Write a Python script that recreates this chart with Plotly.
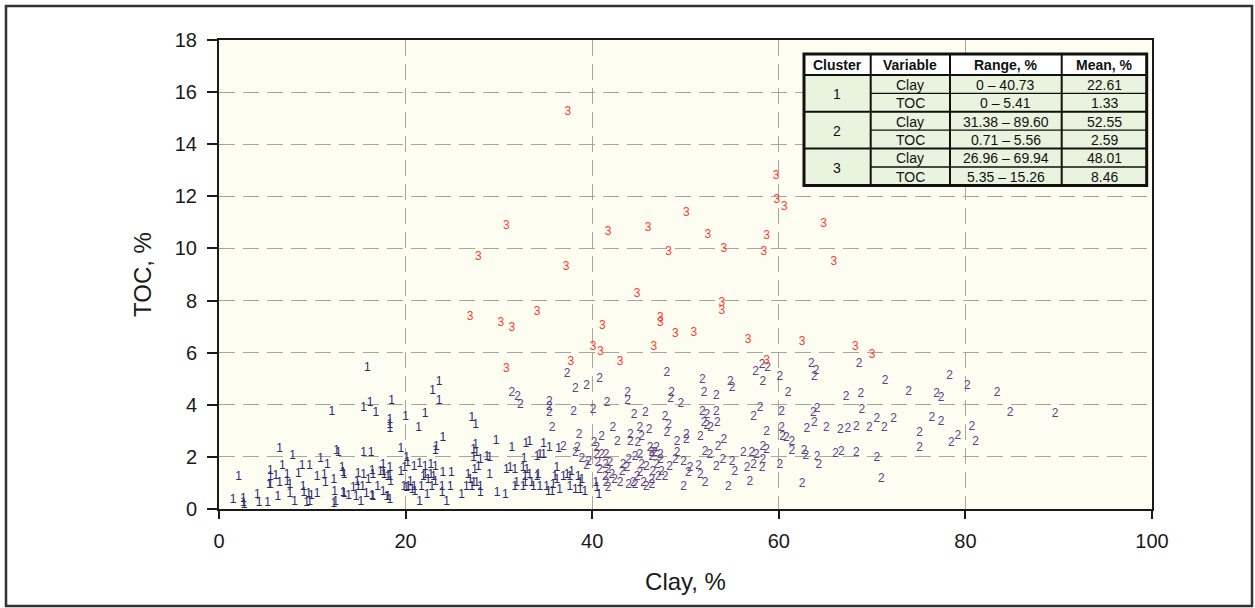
import plotly.graph_objects as go

# ---------------- data ----------------
clay1 = [15.9, 15.5, 16.2, 16.8, 18.5, 12.1, 18.3, 18.3, 18.3, 20.0,
         6.5, 7.9, 12.6, 12.8, 15.5, 16.3, 19.5, 20.1, 20.2, 10.9,
         11.6, 6.8, 8.9, 9.7, 17.6, 18.3, 17.6, 19.5, 19.9, 2.1,
         5.5, 5.5, 6.1, 5.5, 5.4, 6.5, 7.3, 7.3, 7.6, 8.5,
         10.5, 11.3, 11.4, 12.3, 13.2, 13.3, 13.4, 14.9, 15.5, 14.8,
         16.4, 16.5, 16.0, 17.3, 17.7, 18.1, 18.4, 18.3, 19.8, 20.1,
         1.5, 2.6, 2.6, 2.7, 4.1, 4.3, 5.2, 6.3, 7.6, 8.1,
         9.0, 9.1, 9.6, 9.4, 9.7, 9.9, 10.5, 12.4, 12.5, 12.3,
         13.3, 13.4, 13.9, 14.4, 14.7, 15.2, 14.9, 15.4, 15.8, 16.5,
         16.4, 17.0, 17.6, 18.0, 18.3, 18.1, 20.3,
         23.6, 22.9, 23.6, 22.1, 21.4, 27.1, 27.5, 24.0, 23.3, 23.2,
         27.5, 27.3, 27.6, 27.3, 29.7, 31.4, 32.9, 33.3, 34.8, 35.4, 34.8, 34.1, 36.4, 32.7, 34.4,
         20.9, 21.5, 22.1, 22.7, 23.2, 22.1, 21.9, 24.0, 24.9,
         22.7, 23.0, 23.2, 22.4, 22.8,
         20.5, 20.9, 20.7, 21.0,
         21.7, 22.3, 21.5, 23.9, 23.9, 24.4,
         24.8, 26.0, 26.5, 26.9, 27.1, 27.3, 27.6, 28.0, 28.0,
         26.7, 27.4, 27.8, 28.0, 28.7, 29.0, 29.0, 29.8, 30.7,
         30.8, 31.2, 31.7, 32.6, 33.0, 32.8, 33.3, 34.1, 34.2, 33.5, 32.8,
         31.9, 31.7, 32.6, 33.7, 34.4, 35.1, 35.8, 36.2, 36.0, 36.2, 36.9, 37.3, 37.6, 37.8, 38.5, 38.7, 38.9,
         35.3, 35.7, 36.5, 37.6, 38.2, 38.7, 39.2,
         40.4, 40.5, 40.7]
toc1 = [5.40, 3.86, 4.08, 3.70, 4.14, 3.73, 3.42, 3.22, 3.06, 3.54,
        2.30, 2.03, 2.23, 2.16, 2.16, 2.16, 2.30, 1.95, 1.75, 1.92,
        1.69, 1.66, 1.66, 1.66, 1.69, 1.58, 1.43, 1.43, 1.58, 1.24,
        1.46, 1.24, 1.27, 0.92, 0.92, 1.01, 1.30, 1.05, 0.92, 1.34,
        1.24, 1.30, 1.01, 1.11, 1.56, 1.37, 1.30, 1.34, 1.30, 1.05,
        1.47, 1.30, 1.11, 1.43, 1.30, 1.24, 1.05, 1.24, 0.86, 0.79,
        0.35, 0.37, 0.22, 0.15, 0.54, 0.22, 0.24, 0.47, 0.58, 0.28,
        0.86, 0.60, 0.58, 0.22, 0.28, 0.50, 0.58, 0.66, 0.28, 0.19,
        0.60, 0.58, 0.51, 0.79, 0.47, 0.28, 0.86, 0.86, 0.58, 0.45,
        0.50, 0.86, 0.66, 0.47, 0.35, 0.47, 0.86,
        4.89, 4.54, 4.16, 3.65, 3.10, 3.48, 3.22, 2.71, 2.39, 2.23,
        2.46, 2.26, 2.14, 1.95, 2.62, 2.33, 2.49, 2.58, 2.49, 2.33, 2.07, 2.01, 2.29, 1.91, 2.07,
        1.62, 1.73, 1.62, 1.69, 1.62, 1.30, 1.24, 1.39, 1.39,
        1.30, 1.24, 1.05, 1.11, 0.86,
        1.05, 0.86, 0.73, 0.66,
        0.86, 0.54, 0.28, 0.86, 0.60, 0.28,
        0.86, 0.54, 0.86, 1.11, 0.86, 0.99, 0.99, 0.86, 0.60,
        1.30, 1.50, 1.62, 1.88, 2.01, 1.95, 1.30, 0.60, 0.54,
        1.50, 1.56, 1.50, 1.56, 1.50, 1.24, 1.30, 1.24, 1.30, 0.99, 0.99,
        0.99, 0.86, 0.86, 0.86, 0.86, 0.86, 0.92, 1.11, 1.24, 1.56, 1.24, 1.30, 1.24, 1.43, 1.24, 0.99, 1.11,
        0.66, 0.66, 0.73, 0.86, 0.73, 0.73, 0.66,
        0.99, 0.79, 0.54]

clay2 = [36.9, 31.4, 32.0, 32.3, 35.4, 35.4, 35.4, 35.7, 37.3, 38.2, 39.4, 38.0, 40.1, 38.6, 38.4, 38.2, 38.9, 39.6, 39.4, 40.2, 40.5,
         40.8, 48.0, 51.8, 54.8, 55.0, 58.3, 57.5, 58.2, 58.8, 60.1,
         43.8, 43.8, 41.6, 48.5, 48.4, 49.5, 52.0, 53.3, 53.3,
         51.8, 52.3, 52.0, 52.3, 52.7, 53.4, 51.6, 50.1, 50.1, 49.1,
         47.8, 48.2, 48.0, 44.5, 45.7, 42.2, 41.0, 42.7,
         44.1, 44.1, 45.1, 45.3, 46.1, 44.9, 46.2, 46.9, 46.4, 47.3,
         49.1, 48.9, 49.8, 52.1, 52.6, 53.5, 54.1, 53.3, 54.0,
         55.0, 55.3, 56.2, 57.1, 57.6, 58.3, 58.7, 57.3, 58.2, 58.3, 56.6,
         58.7, 58.0, 57.3, 56.9, 54.6, 49.8, 51.4, 51.6, 52.1, 50.5, 50.3,
         40.5, 41.0, 41.5, 40.6, 41.4, 41.9, 40.8, 41.7, 41.4, 42.1, 41.5, 41.7, 42.4, 43.0, 43.2, 43.3, 43.7, 43.9, 44.6, 45.1,
         45.3, 45.8, 45.1, 44.8, 44.4, 43.9, 44.6, 45.5, 45.8, 46.4, 46.7, 47.3, 46.9, 46.5, 47.1, 47.8, 46.4, 46.4, 47.4, 48.3,
         60.3, 60.4,
         63.5, 64.0, 63.8, 68.6, 71.4, 78.3, 80.2, 83.4, 84.8, 61.0,
         67.2, 68.8, 73.9, 76.9, 77.4, 68.9, 63.7, 64.1, 60.3,
         70.5, 72.3, 76.4, 77.4, 63.0, 63.8, 65.1, 66.6, 67.4, 68.3, 69.7, 71.3,
         75.1, 75.1, 78.5, 79.2, 80.7, 81.1,
         60.8, 61.4, 61.4, 62.7, 62.9, 64.1, 64.3, 66.1, 66.7, 68.3, 70.5,
         60.1, 62.5, 71.0, 89.6]
toc2 = [2.39, 4.46, 4.29, 3.99, 4.12, 3.93, 3.70, 3.10, 5.18, 4.60, 4.73, 3.71, 3.80, 2.84, 2.33, 2.14, 1.91, 1.82, 1.65, 2.52, 2.33,
        4.98, 5.21, 4.95, 4.89, 4.63, 4.89, 5.25, 5.53, 5.40, 5.08,
        4.46, 4.16, 4.06, 4.44, 4.21, 4.03, 4.46, 4.34, 3.73,
        3.73, 3.61, 3.31, 3.18, 3.10, 3.29, 2.77, 2.84, 2.65, 2.58,
        3.54, 3.22, 2.90, 3.61, 3.70, 3.10, 2.77, 2.58,
        2.84, 2.58, 3.10, 2.77, 3.03, 2.52, 2.33, 2.33, 2.14, 2.07,
        2.14, 1.88, 1.82, 2.20, 2.07, 2.39, 2.65, 1.62, 1.88,
        1.82, 1.43, 2.14, 2.14, 2.07, 2.39, 2.26, 1.69, 1.56, 1.88, 1.56,
        2.97, 3.86, 3.54, 1.05, 0.86, 0.86, 1.65, 1.30, 0.99, 1.56, 1.39,
        2.07, 2.07, 2.07, 1.75, 1.69, 1.75, 1.50, 1.50, 1.24, 1.30, 0.99, 0.79, 1.11, 0.99, 1.43, 1.69, 1.56, 1.88, 2.01, 2.07,
        1.69, 1.62, 1.37, 1.24, 0.99, 0.92, 0.92, 0.99, 0.86, 2.01, 2.14, 1.88, 1.69, 1.43, 1.24, 1.24, 1.11, 0.92, 1.43, 1.62,
        3.10, 2.77,
        5.56, 5.31, 5.05, 5.56, 4.91, 5.12, 4.72, 4.44, 3.67, 4.44,
        4.31, 4.41, 4.50, 4.41, 4.25, 3.80, 3.67, 3.84, 3.73,
        3.45, 3.44, 3.48, 3.35, 3.06, 3.29, 3.10, 3.03, 3.06, 3.14, 3.10, 3.10,
        2.93, 2.35, 2.54, 2.80, 3.16, 2.58,
        2.71, 2.58, 2.23, 2.23, 2.03, 2.01, 1.69, 2.11, 2.20, 2.16, 1.95,
        1.69, 0.96, 1.14, 3.63]

clay3 = [37.4, 59.7, 59.8, 60.6, 50.1, 30.8, 64.8, 41.7, 46.0, 52.4,
         58.7, 27.8, 37.2, 48.2, 54.1, 58.4, 65.9, 44.8, 53.9, 53.9,
         26.9, 30.2, 31.4, 34.1, 41.1, 47.3, 47.3, 48.9, 50.9, 56.7,
         62.5, 40.1, 40.9, 46.6, 37.7, 43.0, 30.8, 58.7, 68.2, 70.0]
toc3 = [15.25, 12.78, 11.86, 11.60, 11.35, 10.87, 10.92, 10.64, 10.77, 10.51,
        10.49, 9.68, 9.30, 9.85, 9.98, 9.85, 9.47, 8.24, 7.89, 7.60,
        7.38, 7.13, 6.96, 7.55, 7.02, 7.32, 7.13, 6.72, 6.74, 6.49,
        6.42, 6.23, 6.01, 6.20, 5.65, 5.65, 5.37, 5.69, 6.20, 5.91]

# summary table
table_header = ["Cluster", "Variable", "Range, %", "Mean, %"]
table_cluster = ["1", "2", "3"]
table_variable = ["Clay", "TOC", "Clay", "TOC", "Clay", "TOC"]
table_range = ["0 – 40.73", "0 – 5.41", "31.38 – 89.60", "0.71 – 5.56", "26.96 – 69.94", "5.35 – 15.26"]
table_mean = ["22.61", "1.33", "52.55", "2.59", "48.01", "8.46"]

x_ticks = [0, 20, 40, 60, 80, 100]
y_ticks = [0, 2, 4, 6, 8, 10, 12, 14, 16, 18]

# ---------------- styling ----------------
FONT = "Liberation Sans, Arial, Helvetica, sans-serif"
W, H = 1255, 608
ML, MR, MT, MB = 219, 103, 40, 99
PW, PH = W - ML - MR, H - MT - MB
colors = ["#2C2A70", "#5F3F86", "#FF3B2F"]


def px(x):
    return (x - ML) / PW


def py(y):
    return (H - MB - y) / PH


fig = go.Figure()
for clay, toc, lab, col in [(clay1, toc1, "1", colors[0]),
                            (clay2, toc2, "2", colors[1]),
                            (clay3, toc3, "3", colors[2])]:
    fig.add_trace(go.Scatter(
        x=clay, y=toc, mode="text", text=[lab] * len(clay),
        textposition="middle center",
        textfont=dict(family=FONT, size=12, color=col),
        hoverinfo="skip", showlegend=False))

shapes = []
annotations = []

# outer frame
shapes.append(dict(type="rect", xref="paper", yref="paper",
                   x0=px(6), x1=px(1252), y0=py(606), y1=py(6),
                   line=dict(color="#333333", width=2.5), layer="below"))

# table geometry
col_edges = [804, 870.7, 950, 1061.7, 1146.7]
row_edges = [54, 75, 93.4, 111.8, 130.2, 148.6, 167, 185.4]

# backgrounds
shapes.append(dict(type="rect", xref="paper", yref="paper",
                   x0=px(col_edges[0]), x1=px(col_edges[-1]),
                   y0=py(row_edges[1]), y1=py(row_edges[0]),
                   fillcolor="#FFFFFF", line=dict(width=0)))
shapes.append(dict(type="rect", xref="paper", yref="paper",
                   x0=px(col_edges[0]), x1=px(col_edges[-1]),
                   y0=py(row_edges[-1]), y1=py(row_edges[1]),
                   fillcolor="#E9F3DE", line=dict(width=0)))


def hline(y, xa, xb, w):
    shapes.append(dict(type="line", xref="paper", yref="paper",
                       x0=px(xa), x1=px(xb), y0=py(y), y1=py(y),
                       line=dict(color="#111111", width=w)))


def vline(x, ya, yb, w):
    shapes.append(dict(type="line", xref="paper", yref="paper",
                       x0=px(x), x1=px(x), y0=py(ya), y1=py(yb),
                       line=dict(color="#111111", width=w)))


hline(row_edges[1], col_edges[0], col_edges[-1], 2)
hline(row_edges[3], col_edges[0], col_edges[-1], 2)
hline(row_edges[5], col_edges[0], col_edges[-1], 2)
for r in (2, 4, 6):
    hline(row_edges[r], col_edges[1], col_edges[-1], 1.3)
for c in col_edges[1:-1]:
    vline(c, row_edges[0], row_edges[-1], 2)
shapes.append(dict(type="rect", xref="paper", yref="paper",
                   x0=px(col_edges[0]), x1=px(col_edges[-1]),
                   y0=py(row_edges[-1]), y1=py(row_edges[0]),
                   line=dict(color="#111111", width=3)))


def cell_text(txt, xc, yc, bold=False):
    annotations.append(dict(
        text=f"<b>{txt}</b>" if bold else txt, xref="paper", yref="paper",
        x=px(xc), y=py(yc), xanchor="center", yanchor="middle", showarrow=False,
        font=dict(family=FONT, size=14, color="#111111")))


col_c = [(col_edges[i] + col_edges[i + 1]) / 2 for i in range(4)]
for i, h in enumerate(table_header):
    cell_text(h, col_c[i], (row_edges[0] + row_edges[1]) / 2 + 0.5, bold=True)
for g, cl in enumerate(table_cluster):
    cell_text(cl, col_c[0], (row_edges[1 + 2 * g] + row_edges[3 + 2 * g]) / 2 + 0.5)
for r in range(6):
    yc = (row_edges[1 + r] + row_edges[2 + r]) / 2 + 0.5
    cell_text(table_variable[r], col_c[1], yc)
    cell_text(table_range[r], col_c[2], yc)
    cell_text(table_mean[r], col_c[3], yc)

axis_common = dict(
    showline=True, mirror=True, linecolor="#1a1a1a", linewidth=2,
    ticks="outside", tickwidth=2, tickcolor="#1a1a1a",
    showgrid=True, gridcolor="#a6a69e", gridwidth=1.3, griddash="16px,8px",
    zeroline=False,
    tickfont=dict(family=FONT, size=20, color="#1a1a1a"),
)

fig.update_layout(
    width=W, height=H,
    margin=dict(l=ML, r=MR, t=MT, b=MB, autoexpand=False),
    paper_bgcolor="#FFFFFF", plot_bgcolor="#FDFDF1",
    xaxis=dict(range=[0, 100], tickvals=x_ticks, ticklen=8, ticklabelstandoff=5,
               title=dict(text="Clay, %", font=dict(family=FONT, size=24, color="#1a1a1a"),
                          standoff=22),
               **axis_common),
    yaxis=dict(range=[0, 18], tickvals=y_ticks, ticklen=10, ticklabelstandoff=6,
               title=dict(text="TOC, %", font=dict(family=FONT, size=24, color="#1a1a1a"),
                          standoff=16),
               **axis_common),
    shapes=shapes, annotations=annotations,
)

fig.write_html("out.html")
